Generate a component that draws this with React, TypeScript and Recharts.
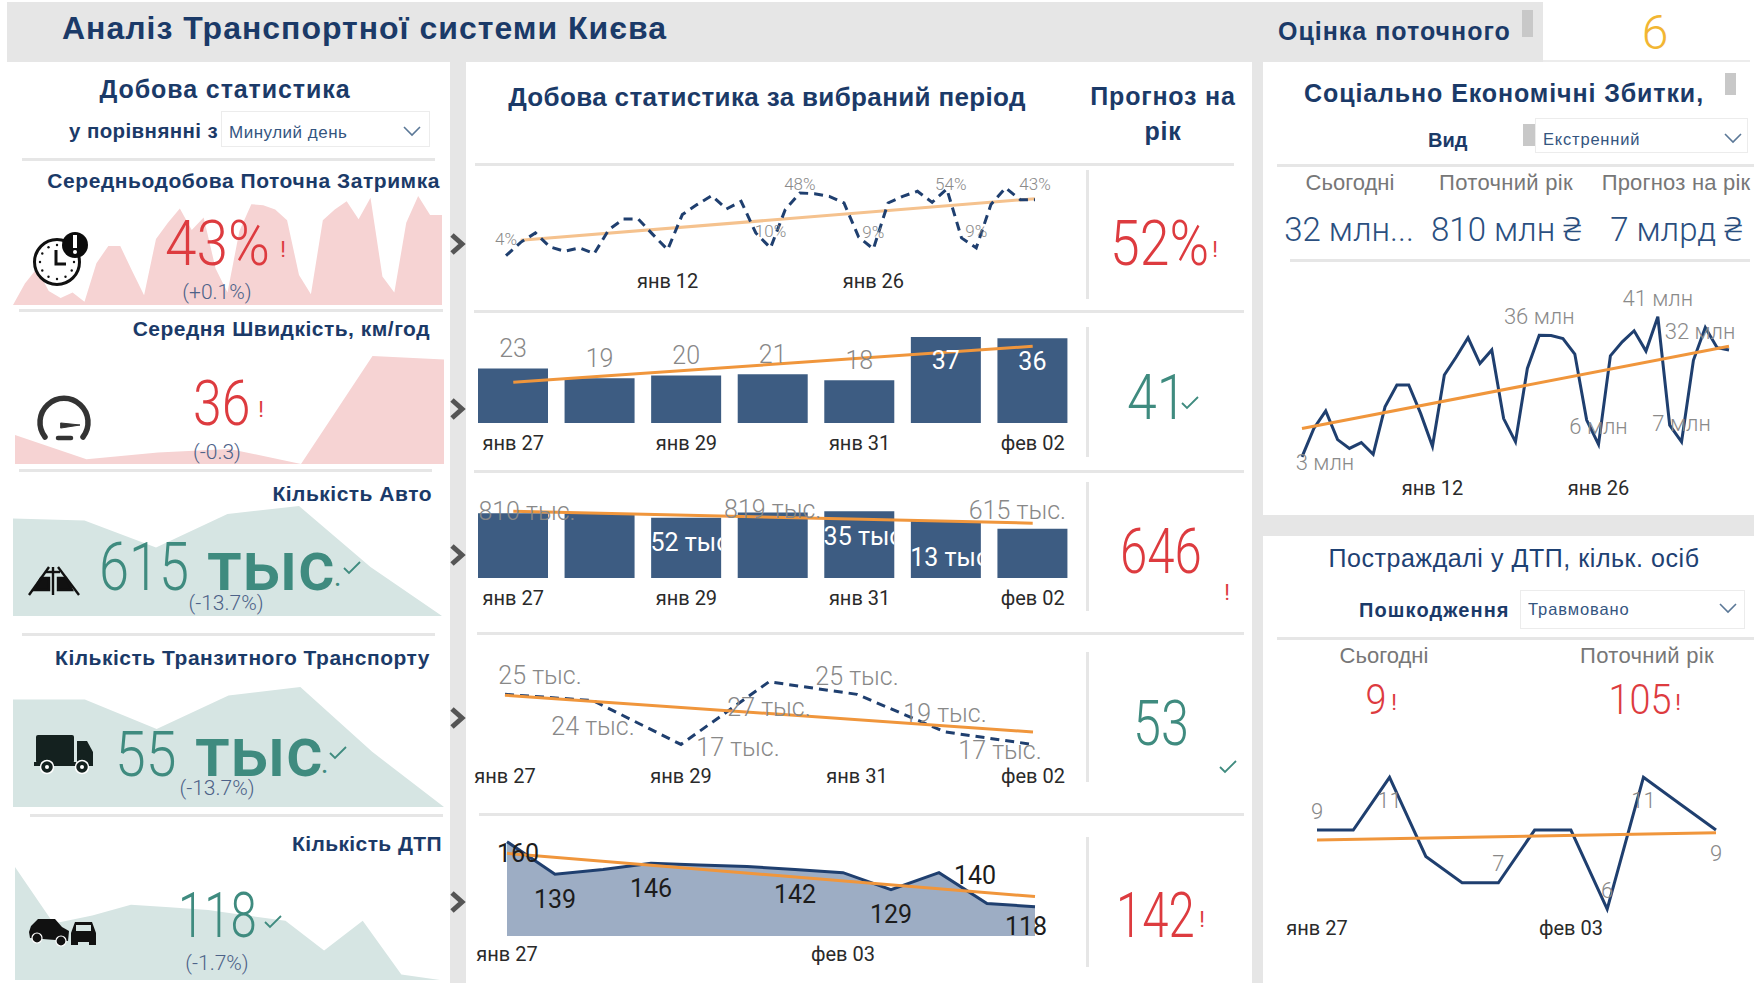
import { ComposedChart, Area, Bar, Line, XAxis, YAxis, LabelList } from "recharts";

// === Categories ===
const janToFeb = [
  "янв 01", "янв 02", "янв 03", "янв 04", "янв 05", "янв 06", "янв 07", "янв 08", "янв 09", "янв 10",
  "янв 11", "янв 12", "янв 13", "янв 14", "янв 15", "янв 16", "янв 17", "янв 18", "янв 19", "янв 20",
  "янв 21", "янв 22", "янв 23", "янв 24", "янв 25", "янв 26", "янв 27", "янв 28", "янв 29", "янв 30",
  "янв 31", "фев 01", "фев 02", "фев 03", "фев 04", "фев 05", "фев 06",
];
const lastWeek = ["янв 27", "янв 28", "янв 29", "янв 30", "янв 31", "фев 01", "фев 02"];
const lastTwelve = [
  "янв 27", "янв 28", "янв 29", "янв 30", "янв 31", "фев 01",
  "фев 02", "фев 03", "фев 04", "фев 05", "фев 06", "фев 07",
];

// === Series ===
const delayPct = [
  4, 14, 21, 10.5, 7.3, 9.8, 5.5, 23.5, 31.5, 31.5, 19.8, 8.5, 34.8, 42.3, 49, 39, 44.8, 21, 9.8,
  38.5, 51, 50.5, 48.5, 43.5, 18, 9, 43.5, 48.5, 52.3, 44, 54, 17.3, 9.8, 42.3, 54.8, 46, 46,
];
const speedKmh = [23.4, 19.2, 20.4, 21, 18.4, 37, 36.4];
const carsK = [810, 806, 752, 819, 835, 713, 615];
const transitK = [25, 24, 17, 27, 25, 19, 17];
const transitTotalK = [72.9, 72.9, 68, 73.6, 75, 64.2, 55];
const accidents = [160, 139, 142, 146, 145, 144, 142, 140, 129, 140, 120, 118];
const lossesMln = [
  3, 10.7, 15.5, 7.7, 5.3, 6.9, 3.7, 16.6, 22.5, 22.5, 14.8, 5.9, 25.2, 30.1, 35.3, 28.3, 32, 13.4,
  7.1, 27, 36, 35.9, 35.1, 30.9, 13, 6.4, 30.4, 34.2, 37.2, 31.7, 41, 11.6, 7.1, 29.2, 38.1, 32.6, 32,
];
const injured = [9, 9, 11, 8, 7, 7, 9, 9, 6, 11, 10, 9];

// === Trend end points, first and last ===
const delayTrend = [15.5, 46.75];
const speedTrend = [17.5, 33];
const carsTrend = [835, 685];
const transitTrend = [24.86, 19];
const accidentsTrend = [152.5, 124.5];
const lossesTrend = [10.7, 33];
const injuredTrend = [8.62, 8.9];

// === Point labels ===
const delayLabels: Record<number, string> = { 0: "4%", 18: "10%", 20: "48%", 25: "9%", 30: "54%", 32: "9%", 36: "43%" };
const carsLabels: Record<number, string> = { 0: "810 тыс.", 2: "752 тыс.", 3: "819 тыс.", 4: "835 тыс.", 5: "713 тыс.", 6: "615 тыс." };
const transitLabels: Record<number, string> = { 0: "25 тыс.", 1: "24 тыс.", 2: "17 тыс.", 3: "27 тыс.", 4: "25 тыс.", 5: "19 тыс.", 6: "17 тыс." };
const accidentLabels: Record<number, string> = { 0: "160", 1: "139", 3: "146", 6: "142", 8: "129", 9: "140", 11: "118" };
const lossesLabels: Record<number, string> = { 0: "3 млн", 20: "36 млн", 25: "6 млн", 30: "41 млн", 32: "7 млн", 36: "32 млн" };
const injuredLabels: Record<number, string> = { 0: "9", 2: "11", 5: "7", 8: "6", 9: "11", 11: "9" };
const speedLabels: Record<number, string> = Object.fromEntries(speedKmh.map((v, i) => [i, String(Math.round(v))]));

// зсуви підписів відносно точки
const delayShift: Record<number, number[]> = { 0: [0, -17], 18: [0, -17], 20: [0, -9], 25: [0, -17], 30: [4, -5], 32: [0, -17], 36: [0, -16] };
const speedShift: Record<number, number[]> = { 0: [0, -20], 1: [0, -20], 2: [0, -20], 3: [0, -20], 4: [0, -20], 5: [0, 24], 6: [0, 23] };
const carsShift: Record<number, number[]> = { 0: [14, -2], 2: [0, 25], 3: [0, -3], 4: [0, 25], 5: [0, 37], 6: [-15, -18] };
const transitShift: Record<number, number[]> = { 0: [35, -19], 1: [0, 26], 2: [57, 3], 3: [0, 26], 4: [0, -18], 5: [0, -18], 6: [-33, 6] };
const accidentShift: Record<number, number[]> = { 0: [11, 12], 1: [0, 25], 3: [0, 25], 6: [0, 25], 8: [0, 25], 9: [36, 3], 11: [-9, 20] };
const lossesShift: Record<number, number[]> = { 0: [23, 6], 20: [0, -19], 25: [0, -18], 30: [0, -18], 32: [0, -18], 36: [-29, -18] };
const injuredShift: Record<number, number[]> = { 0: [0, -19], 2: [0, 23], 5: [0, -19], 8: [0, -19], 9: [0, 23], 11: [0, 23] };

const rows = (cats: string[], values: number[], trend?: number[], trendFrom = 0) =>
  cats.map((cat, i) => ({
    cat,
    value: values[i],
    trend: !trend ? null : i === trendFrom ? trend[0] : i === cats.length - 1 ? trend[1] : null,
  }));

// === Colours ===
const NAVY = "#1b3a68";
const LINE_NAVY = "#1f3f6f";
const BAR_BLUE = "#3d5c82";
const ORANGE = "#f0963c";
const RED = "#dd3b3f";
const TEAL = "#3f8b7f";
const PINK_AREA = "#f6d3d3";
const TEAL_AREA = "#d6e5e3";
const RULE = "#e6e6e6";
const SUB = "#4d6288";
const SANS = '"Liberation Sans", Arial, sans-serif';
const NUM = 'Roboto, "Noto Sans", sans-serif';

const PAD = 40;
const AXIS_H = 60;
const TICK_FS = 20;

const Plot = ({ box, data, domain, ticks, tickY, band, children }: any) => {
  const [l, t, r, b] = box;
  return (
    <div style={{ position: "absolute", left: l - PAD, top: t - PAD }}>
      <ComposedChart
        width={r - l + 2 * PAD}
        height={b - t + PAD + AXIS_H}
        data={data}
        margin={{ top: PAD, left: PAD, right: PAD, bottom: ticks ? 0 : AXIS_H }}
      >
        <XAxis
          dataKey="cat"
          hide={!ticks}
          scale={band ? "band" : "point"}
          ticks={ticks}
          interval={0}
          axisLine={false}
          tickLine={false}
          tickSize={0}
          height={AXIS_H}
          tickMargin={ticks ? Math.max(0, tickY - 0.4 * TICK_FS - b) : 0}
          tick={{ fill: "#2a2a2a", fontSize: TICK_FS, fontFamily: NUM }}
        />
        <YAxis hide domain={domain} />
        {children}
      </ComposedChart>
    </div>
  );
};

const pointLabel =
  (name: string, texts: Record<number, string>, shift: Record<number, number[]>, fontSize: number, color: any, clip = false, weight = 300) =>
  (props: any) => {
    const text = texts[props.index];
    if (!text) return null;
    const vb = props.viewBox ?? props;
    const [dx, dy] = shift[props.index] ?? [0, 0];
    const fill = typeof color === "function" ? color(props.index) : color;
    const id = `clip-${name}-${props.index}`;
    return (
      <g clipPath={clip && fill === "#fff" ? `url(#${id})` : undefined}>
        {clip && (
          <clipPath id={id}>
            <rect x={vb.x} y={vb.y} width={vb.width} height={vb.height} />
          </clipPath>
        )}
        <text
          x={vb.x + (vb.width || 0) / 2 + dx}
          y={vb.y + dy}
          textAnchor="middle"
          dominantBaseline="central"
          fontFamily={NUM}
          fontWeight={fill === "#fff" ? 400 : weight}
          fontSize={fontSize}
          fill={fill}
        >
          {text}
        </text>
      </g>
    );
  };

const Sparkline = ({ box, values, domain, color }: any) => (
  <Plot box={box} data={rows(values.map((_: number, i: number) => String(i)), values)} domain={domain}>
    <Area dataKey="value" stroke="none" fill={color} fillOpacity={1} baseValue={domain[0]} dot={false} activeDot={false} isAnimationActive={false} />
  </Plot>
);

const TrendLine = ({ color = ORANGE }: any) => (
  <Line dataKey="trend" connectNulls stroke={color} strokeWidth={3} dot={false} activeDot={false} isAnimationActive={false} />
);

// === HTML text and rules ===
const T = ({ x, y, s, size, color = NAVY, bold, weight, font = SANS, align = "left", sx = 1, ls = 0 }: any) => {
  const tx = align === "center" ? "-50%" : align === "right" ? "-100%" : "0";
  const origin = align === "center" ? "center" : align === "right" ? "right" : "left";
  return (
    <div
      style={{
        position: "absolute",
        left: x,
        top: y,
        fontSize: size,
        lineHeight: 1,
        letterSpacing: ls,
        color,
        fontFamily: font,
        fontWeight: weight ?? (bold ? 700 : 400),
        whiteSpace: "nowrap",
        transformOrigin: origin,
        transform: `translate(${tx}, -50%) scaleX(${sx})`,
      }}
    >
      {s}
    </div>
  );
};

const Box = ({ x, y, w, h, c = RULE, border }: any) => (
  <div style={{ position: "absolute", left: x, top: y, width: w, height: h, background: c, border, boxSizing: "border-box" }} />
);

const Big = ({ x, y, s, color, size = 63, sx = 0.9, align = "left" }: any) => (
  <T x={x} y={y} s={s} size={size} color={color} font={NUM} weight={300} sx={sx} align={align} />
);

const Bang = ({ x, y, size = 22 }: any) => <T x={x} y={y} s="!" size={size} color={RED} font={NUM} weight={400} align="center" />;

const Check = ({ x, y }: any) => (
  <polyline points={`${x - 8},${y} ${x - 3},${y + 5} ${x + 8},${y - 6}`} fill="none" stroke={TEAL} strokeWidth={1.8} />
);

const Chevron = ({ x, y }: any) => (
  <polyline points={`${x - 8},${y - 4} ${x},${y + 4} ${x + 8},${y - 4}`} fill="none" stroke="#5b7897" strokeWidth={1.6} />
);

const Arrow = ({ y }: any) => (
  <polyline points={`${452},${y - 9} ${462},${y} ${452},${y + 9}`} fill="none" stroke="#555" strokeWidth={5} />
);

// === Іконки ===
const ClockIcon = () => (
  <g>
    <circle cx={57} cy={262} r={22.5} fill="#fff" stroke="#111" strokeWidth={3} />
    {[0, 1, 2, 3, 4, 5, 6, 7, 8, 9, 10, 11].map((h) => (
      <circle key={h} cx={57 + 17 * Math.sin((h * Math.PI) / 6)} cy={262 - 17 * Math.cos((h * Math.PI) / 6)} r={1.2} fill="#111" />
    ))}
    <polyline points="56,250 56,264 66,264" fill="none" stroke="#111" strokeWidth={3} />
    <circle cx={75} cy={245} r={13} fill="#0b0b0b" />
    <rect x={73} y={235} width={4} height={13} fill="#fff" />
    <circle cx={75} cy={252} r={2} fill="#fff" />
  </g>
);

const GaugeIcon = () => (
  <g fill="none" stroke="#333" strokeLinecap="round">
    <path d="M 45 437 A 24 24 0 1 1 83 437" strokeWidth={5.5} />
    <path d="M 61 423 L 80 425 L 61 428 Z" fill="#333" strokeWidth={1} />
    <line x1={58} y1={438} x2={71} y2={438} strokeWidth={4.5} />
  </g>
);

const RoadIcon = () => (
  <g fill="none" stroke="#111" strokeWidth={2.4}>
    <line x1={29} y1={595} x2={49} y2={567} />
    <line x1={53} y1={595} x2={53} y2={567} />
    <line x1={79} y1={595} x2={58} y2={567} />
    <path d="M 34 590 L 41 578 L 49 578 L 49 590 Z" fill="#111" />
    <path d="M 58 590 L 58 578 L 66 578 L 72 590 Z" fill="#111" />
    <line x1={46} y1={572} x2={60} y2={572} />
  </g>
);

const TruckIcon = () => (
  <g>
    <rect x={36} y={735} width={38} height={28} rx={2} fill="#14211f" />
    <path d="M 77 741 L 87 741 L 93 752 L 93 764 L 77 764 Z" fill="#14211f" />
    <rect x={34} y={762} width={59} height={4} fill="#14211f" />
    <circle cx={47} cy={767} r={6.5} fill="#14211f" stroke="#fff" strokeWidth={1.5} />
    <circle cx={82} cy={767} r={6.5} fill="#14211f" stroke="#fff" strokeWidth={1.5} />
    <circle cx={47} cy={767} r={2} fill="#fff" />
    <circle cx={82} cy={767} r={2} fill="#fff" />
  </g>
);

const CarsIcon = () => (
  <g fill="#111">
    <path d="M 29 932 L 31 926 L 38 919 L 55 919 L 62 927 L 69 931 L 68 941 L 30 938 Z" />
    <circle cx={37} cy={938} r={5} stroke="#fff" strokeWidth={1.2} />
    <circle cx={61} cy={941} r={5} stroke="#fff" strokeWidth={1.2} />
    <path d="M 71 933 L 75 922 L 92 922 L 96 933 L 96 945 L 89 945 L 89 942 L 78 942 L 78 945 L 71 945 Z" />
    <rect x={76} y={925} width={15} height={6} fill="#d6e5e3" />
  </g>
);

export default function App() {
  return (
    <div style={{ position: "absolute", left: 0, top: 0, width: 1754, height: 983, overflow: "hidden", background: "#fff" }}>
      {/* === Фон === */}
      <Box x={7} y={2} w={1536} h={60} />
      <Box x={450} y={62} w={16} h={921} />
      <Box x={1252} y={62} w={11} h={921} />
      <Box x={1263} y={515} w={491} h={21} />
      <Box x={1543} y={60} w={207} h={2} c="#ececec" />
      <Box x={1522} y={10} w={11} h={27} c="#c8c8c8" />
      <Box x={1725} y={73} w={11} h={22} c="#c8c8c8" />
      <Box x={1523} y={124} w={12} h={22} c="#c8c8c8" />

      {/* === Лінії === */}
      <Box x={22} y={158} w={413} h={3} />
      <Box x={19} y={309} w={424} h={3} />
      <Box x={19} y={469} w={413} h={3} />
      <Box x={22} y={633} w={413} h={3} />
      <Box x={30} y={814} w={413} h={3} />
      <Box x={475} y={163} w={759} h={3} />
      <Box x={474} y={310} w={770} h={3} />
      <Box x={474} y={470} w={770} h={3} />
      <Box x={477} y={632} w={767} h={3} />
      <Box x={479} y={813} w={765} h={3} />
      <Box x={1277} y={164} w={477} h={3} />
      <Box x={1290} y={259} w={460} h={3} />
      <Box x={1277} y={637} w={477} h={3} />
      <Box x={1086} y={170} w={3} h={129} />
      <Box x={1086} y={327} w={3} h={130} />
      <Box x={1086} y={482} w={3} h={129} />
      <Box x={1086} y={652} w={3} h={130} />
      <Box x={1086} y={837} w={3} h={130} />

      {/* === Ліва колонка: спарклайни === */}
      <Sparkline box={[13, 196, 442, 305]} values={delayPct} domain={[4, 54]} color={PINK_AREA} />
      <Sparkline box={[15, 356, 444, 464]} values={speedKmh} domain={[18.4, 37]} color={PINK_AREA} />
      <Sparkline box={[13, 506, 442, 616]} values={carsK} domain={[615, 835]} color={TEAL_AREA} />
      <Sparkline box={[13, 687, 444, 807]} values={transitTotalK} domain={[55, 75]} color={TEAL_AREA} />
      <Sparkline box={[15, 867, 440, 980]} values={accidents} domain={[118, 160]} color={TEAL_AREA} />

      {/* === Центр: затримка === */}
      <Plot box={[506, 181, 1035, 261]} data={rows(janToFeb, delayPct, delayTrend, 1)} domain={[0, 60]} ticks={["янв 12", "янв 26"]} tickY={282}>
        <TrendLine color="#f5c28e" />
        <Line dataKey="value" stroke={LINE_NAVY} strokeWidth={3} strokeDasharray="9 6" dot={false} activeDot={false} isAnimationActive={false}>
          <LabelList dataKey="value" content={pointLabel("delay", delayLabels, delayShift, 17, "#8a8a8a")} />
        </Line>
      </Plot>

      {/* === Центр: швидкість === */}
      <Plot box={[469.5, 330, 1075.5, 423]} data={rows(lastWeek, speedKmh, speedTrend)} domain={[0, 40]} band ticks={["янв 27", "янв 29", "янв 31", "фев 02"]} tickY={444}>
        <Bar dataKey="value" fill={BAR_BLUE} barSize={70} isAnimationActive={false}>
          <LabelList dataKey="value" content={pointLabel("speed", speedLabels, speedShift, 25, (i: number) => (i > 4 ? "#fff" : "#888"))} />
        </Bar>
        <TrendLine />
      </Plot>

      {/* === Центр: авто === */}
      <Plot box={[469.5, 498, 1075.5, 578]} data={rows(lastWeek, carsK, carsTrend)} domain={[0, 1000]} band ticks={["янв 27", "янв 29", "янв 31", "фев 02"]} tickY={599}>
        <Bar dataKey="value" fill={BAR_BLUE} barSize={70} isAnimationActive={false}>
          <LabelList
            dataKey="value"
            content={pointLabel("cars", carsLabels, carsShift, 25, (i: number) => (i === 2 || i === 4 || i === 5 ? "#fff" : "#888"), true)}
          />
        </Bar>
        <TrendLine />
      </Plot>

      {/* === Центр: транзит === */}
      <Plot box={[505, 663, 1033, 757]} data={rows(lastWeek, transitK, transitTrend)} domain={[15, 30]} ticks={["янв 27", "янв 29", "янв 31", "фев 02"]} tickY={777}>
        <Line dataKey="value" stroke={LINE_NAVY} strokeWidth={3} strokeDasharray="9 6" dot={false} activeDot={false} isAnimationActive={false}>
          <LabelList dataKey="value" content={pointLabel("transit", transitLabels, transitShift, 25, "#888")} />
        </Line>
        <TrendLine />
      </Plot>

      {/* === Центр: ДТП === */}
      <Plot box={[507, 834, 1035, 936]} data={rows(lastTwelve, accidents, accidentsTrend)} domain={[99, 165]} ticks={["янв 27", "фев 03"]} tickY={955}>
        <Area dataKey="value" stroke={LINE_NAVY} strokeWidth={3} fill="#9dadc4" fillOpacity={1} baseValue={99} dot={false} activeDot={false} isAnimationActive={false}>
          <LabelList dataKey="value" content={pointLabel("accidents", accidentLabels, accidentShift, 25, "#1c1c1c", false, 400)} />
        </Area>
        <TrendLine />
      </Plot>

      {/* === Справа: збитки === */}
      <Plot box={[1302, 302, 1729, 468]} data={rows(janToFeb, lossesMln, lossesTrend)} domain={[0, 45]} ticks={["янв 12", "янв 26"]} tickY={489}>
        <Line dataKey="value" stroke={LINE_NAVY} strokeWidth={3} dot={false} activeDot={false} isAnimationActive={false}>
          <LabelList dataKey="value" content={pointLabel("losses", lossesLabels, lossesShift, 22, "#8a8a8a")} />
        </Line>
        <TrendLine />
      </Plot>

      {/* === Справа: постраждалі === */}
      <Plot box={[1317, 751, 1716, 917]} data={rows(lastTwelve, injured, injuredTrend)} domain={[5.7, 12]} ticks={["янв 27", "фев 03"]} tickY={929}>
        <Line dataKey="value" stroke={LINE_NAVY} strokeWidth={3} dot={false} activeDot={false} isAnimationActive={false}>
          <LabelList dataKey="value" content={pointLabel("injured", injuredLabels, injuredShift, 22, "#888")} />
        </Line>
        <TrendLine />
      </Plot>

      {/* === Заголовки === */}
      <T x={62} y={28} s="Аналіз Транспортної системи Києва" size={32} bold ls={1} />
      <T x={1278} y={31} s="Оцінка поточного" size={25} bold ls={1} />
      <T x={1655} y={33} s="6" size={48} color="#f2b632" font={NUM} weight={300} align="center" />

      <T x={225} y={89} s="Добова статистика" size={25} bold align="center" ls={0.9} />
      <T x={69} y={131} s="у порівнянні з" size={20.5} bold ls={0.4} />
      <Box x={221} y={111} w={209} h={36} c="#fff" border="1px solid #ececec" />
      <T x={229} y={132} s="Минулий день" size={17} color="#34557f" ls={0.5} />
      <T x={440} y={180} s="Середньодобова Поточна Затримка" size={21} bold align="right" ls={0.55} />
      <T x={430} y={328} s="Середня Швидкість, км/год" size={21} bold align="right" ls={0.5} />
      <T x={432} y={493} s="Кількість Авто" size={21} bold align="right" ls={0.5} />
      <T x={430} y={657} s="Кількість Транзитного Транспорту" size={21} bold align="right" ls={0.5} />
      <T x={442} y={843} s="Кількість ДТП" size={21} bold align="right" ls={0.4} />

      <T x={767} y={97} s="Добова статистика за вибраний період" size={26} bold align="center" ls={0.35} />
      <T x={1163} y={96} s="Прогноз на" size={25} bold align="center" ls={0.8} />
      <T x={1163} y={131} s="рік" size={25} bold align="center" ls={0.8} />

      <T x={1504} y={93} s="Соціально Економічні Збитки," size={25} bold align="center" ls={0.9} />
      <T x={1428} y={140} s="Вид" size={20} bold />
      <Box x={1535} y={118} w={213} h={35} c="#fff" border="1px solid #ececec" />
      <T x={1543} y={139} s="Екстренний" size={16.5} color="#34557f" ls={0.8} />
      <T x={1350} y={183} s="Сьогодні" size={22} color="#777" align="center" />
      <T x={1506} y={183} s="Поточний рік" size={22} color="#777" align="center" ls={0.3} />
      <T x={1676} y={183} s="Прогноз на рік" size={22} color="#777" align="center" ls={0.2} />
      <T x={1349} y={229} s="32 млн..." size={33} color="#2b4f7f" font={NUM} weight={300} align="center" />
      <T x={1506} y={229} s="810 млн ₴" size={33} color="#2b4f7f" font={NUM} weight={300} align="center" />
      <T x={1676} y={229} s="7 млрд ₴" size={33} color="#2b4f7f" font={NUM} weight={300} align="center" />

      <T x={1514} y={558} s="Постраждалі у ДТП, кільк. осіб" size={25} color="#1e4173" align="center" ls={0.55} />
      <T x={1359} y={610} s="Пошкодження" size={20} bold ls={1.1} />
      <Box x={1520} y={590} w={225} h={39} c="#fff" border="1px solid #ececec" />
      <T x={1528} y={609} s="Травмовано" size={16.5} color="#34557f" ls={0.9} />
      <T x={1384} y={656} s="Сьогодні" size={22} color="#777" align="center" />
      <T x={1647} y={656} s="Поточний рік" size={22} color="#777" align="center" ls={0.3} />
      <Big x={1376} y={700} s="9" color={RED} size={42} align="center" />
      <Big x={1640} y={700} s="105" color={RED} size={42} align="center" />
      <Bang x={1394} y={703} />
      <Bang x={1678} y={703} />

      {/* === KPI зліва === */}
      <Big x={165} y={243} s="43%" color={RED} />
      <Bang x={283} y={250} />
      <T x={217} y={292} s="(+0.1%)" size={21} color={SUB} font={NUM} weight={300} align="center" />

      <Big x={193} y={403} s="36" color={RED} sx={0.82} />
      <Bang x={261} y={410} />
      <T x={217} y={452} s="(-0.3)" size={21} color={SUB} font={NUM} weight={300} align="center" />

      <Big x={99} y={568} s="615" color={TEAL} size={66} sx={0.82} />
      <T x={207} y={566} s="тыс" size={70} color={TEAL} font={NUM} weight={500} />
      <T x={333} y={573} s="." size={40} color={TEAL} font={NUM} weight={300} />
      <T x={226} y={603} s="(-13.7%)" size={21} color={SUB} font={NUM} weight={300} align="center" />

      <Big x={115} y={754} s="55" color={TEAL} sx={0.88} />
      <T x={195} y={752} s="тыс" size={70} color={TEAL} font={NUM} weight={500} />
      <T x={320} y={760} s="." size={40} color={TEAL} font={NUM} weight={300} />
      <T x={217} y={788} s="(-13.7%)" size={21} color={SUB} font={NUM} weight={300} align="center" />

      <Big x={178} y={915} s="118" color={TEAL} sx={0.75} />
      <T x={217} y={963} s="(-1.7%)" size={21} color={SUB} font={NUM} weight={300} align="center" />

      {/* === Прогноз === */}
      <Big x={1110} y={243} s="52%" color={RED} sx={0.85} />
      <Bang x={1215} y={250} />
      <Big x={1127} y={397} s="41" color={TEAL} sx={0.85} />
      <Big x={1120} y={551} s="646" color={RED} sx={0.78} />
      <Bang x={1227} y={593} />
      <Big x={1133} y={723} s="53" color={TEAL} sx={0.8} />
      <Big x={1116} y={915} s="142" color={RED} sx={0.75} />
      <Bang x={1202} y={920} />

      {/* === Іконки === */}
      <svg width={1754} height={983} style={{ position: "absolute", left: 0, top: 0, pointerEvents: "none" }}>
        <ClockIcon />
        <GaugeIcon />
        <RoadIcon />
        <TruckIcon />
        <CarsIcon />
        {[244, 409, 555, 718, 902].map((y) => (
          <Arrow key={y} y={y} />
        ))}
        <Chevron x={412} y={131} />
        <Chevron x={1733} y={138} />
        <Chevron x={1728} y={608} />
        <Check x={352} y={568} />
        <Check x={338} y={753} />
        <Check x={273} y={922} />
        <Check x={1190} y={403} />
        <Check x={1228} y={767} />
      </svg>
    </div>
  );
}
